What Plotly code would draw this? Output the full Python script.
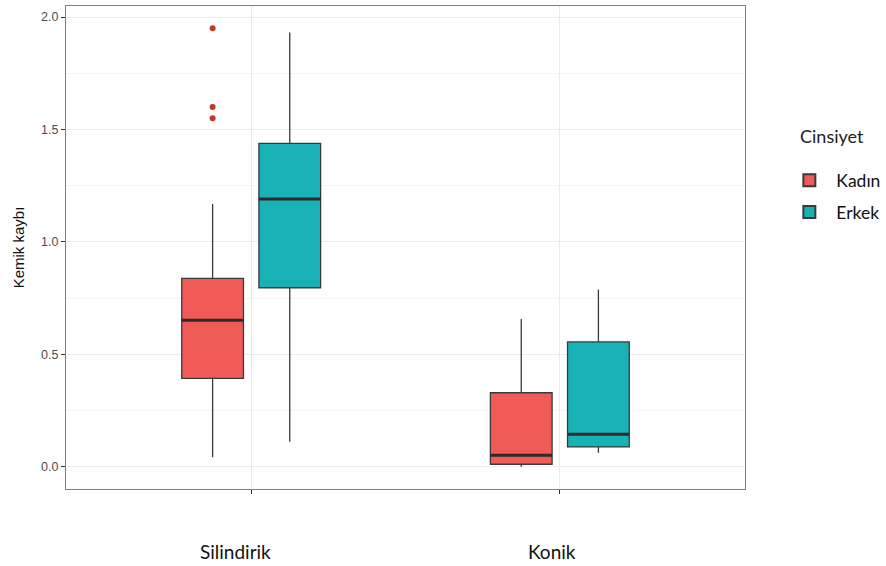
import plotly.graph_objects as go

# Bone loss by implant shape and sex (precomputed box statistics)
categories = ["Silindirik", "Konik"]
groups = ["Kadın", "Erkek"]

kadin_low = [0.042, 0.000]
kadin_q1 = [0.393, 0.011]
kadin_med = [0.651, 0.051]
kadin_q3 = [0.838, 0.329]
kadin_high = [1.169, 0.657]
kadin_outliers = [[1.95, 1.60, 1.55], []]

erkek_low = [0.111, 0.062]
erkek_q1 = [0.796, 0.088]
erkek_med = [1.191, 0.144]
erkek_q3 = [1.438, 0.555]
erkek_high = [1.931, 0.787]
erkek_outliers = None

y_ticks = [0.0, 0.5, 1.0, 1.5, 2.0]

fills = {"Kadın": "#F15B57", "Erkek": "#18B2B6"}
outlier_color = "#C0392B"
edge = "#3a3a3a"

stats = {
    "Kadın": (kadin_low, kadin_q1, kadin_med, kadin_q3, kadin_high, kadin_outliers),
    "Erkek": (erkek_low, erkek_q1, erkek_med, erkek_q3, erkek_high, erkek_outliers),
}

fig = go.Figure()
for g in groups:
    low, q1, med, q3, high, outs = stats[g]
    box = dict(
        name=g, legendgroup=g, offsetgroup=g,
        x=categories,
        q1=q1, median=med, q3=q3, lowerfence=low, upperfence=high,
        fillcolor=fills[g],
        line=dict(color=edge, width=1.3),
        whiskerwidth=0,
    )
    if outs is not None:
        box.update(y=outs, boxpoints="outliers",
                   marker=dict(color=outlier_color, size=6, line=dict(width=0)))
    else:
        box.update(boxpoints=False)
    fig.add_trace(go.Box(**box))
    # thicker median bar drawn on top of each box
    fig.add_trace(go.Box(
        name=g, legendgroup=g, offsetgroup=g, showlegend=False,
        x=categories,
        q1=med, median=med, q3=med, lowerfence=med, upperfence=med,
        boxpoints=False,
        fillcolor="rgba(0,0,0,0)",
        line=dict(color="#2b2b2b", width=3),
        whiskerwidth=0, hoverinfo="skip",
    ))

label_font = dict(family="Lato, 'Open Sans', sans-serif", size=19, color="#111111")
fig.add_annotation(text="Silindirik", x=0.249, y=-0.13, xref="paper", yref="paper",
                   xanchor="center", yanchor="middle", showarrow=False, font=label_font)
fig.add_annotation(text="Konik", x=0.716, y=-0.13, xref="paper", yref="paper",
                   xanchor="center", yanchor="middle", showarrow=False, font=label_font)
# legend heading
fig.add_annotation(text="Cinsiyet", x=1.128, y=0.731, xref="paper", yref="paper",
                   xanchor="center", yanchor="middle", showarrow=False,
                   font=dict(family="Lato, sans-serif", size=18, color="#222222"))

fig.update_layout(
    width=886, height=566,
    margin=dict(l=66, r=141, t=6, b=77, autoexpand=False),
    paper_bgcolor="white", plot_bgcolor="white",
    boxmode="group", boxgap=0.5, boxgroupgap=0.2,
    font=dict(family="Liberation Sans, Arial, sans-serif", color="#333333"),
    legend=dict(
        font=dict(family="Lato, sans-serif", size=17.5, color="#111111"),
        x=1.055, xanchor="left", y=0.676, yanchor="top",
        tracegroupgap=6, itemwidth=44,
        bgcolor="rgba(0,0,0,0)", itemsizing="constant",
    ),
    showlegend=True,
)
fig.update_xaxes(
    type="category", range=[-0.6, 1.6],
    showgrid=True, gridcolor="#ebebeb", gridwidth=1,
    ticks="outside", ticklen=4, tickcolor="#333333",
    showticklabels=False,
    showline=True, linecolor="#7f7f7f", linewidth=1, mirror=True,
    zeroline=False,
)
fig.update_yaxes(
    range=[-0.099, 2.049],
    tickvals=y_ticks, tickformat=".1f",
    tickfont=dict(size=12.5, color="#4d4d4d"),
    ticks="outside", ticklen=4, tickcolor="#333333",
    showgrid=True, gridcolor="#ebebeb", gridwidth=1,
    minor=dict(dtick=0.25, tick0=0.25, showgrid=True, gridcolor="#f4f4f4", gridwidth=1),
    showline=True, linecolor="#7f7f7f", linewidth=1, mirror=True,
    zeroline=False,
    title=dict(text="Kemik kaybı", font=dict(size=15, color="#111111"), standoff=12),
)

fig.write_html("out.html")
